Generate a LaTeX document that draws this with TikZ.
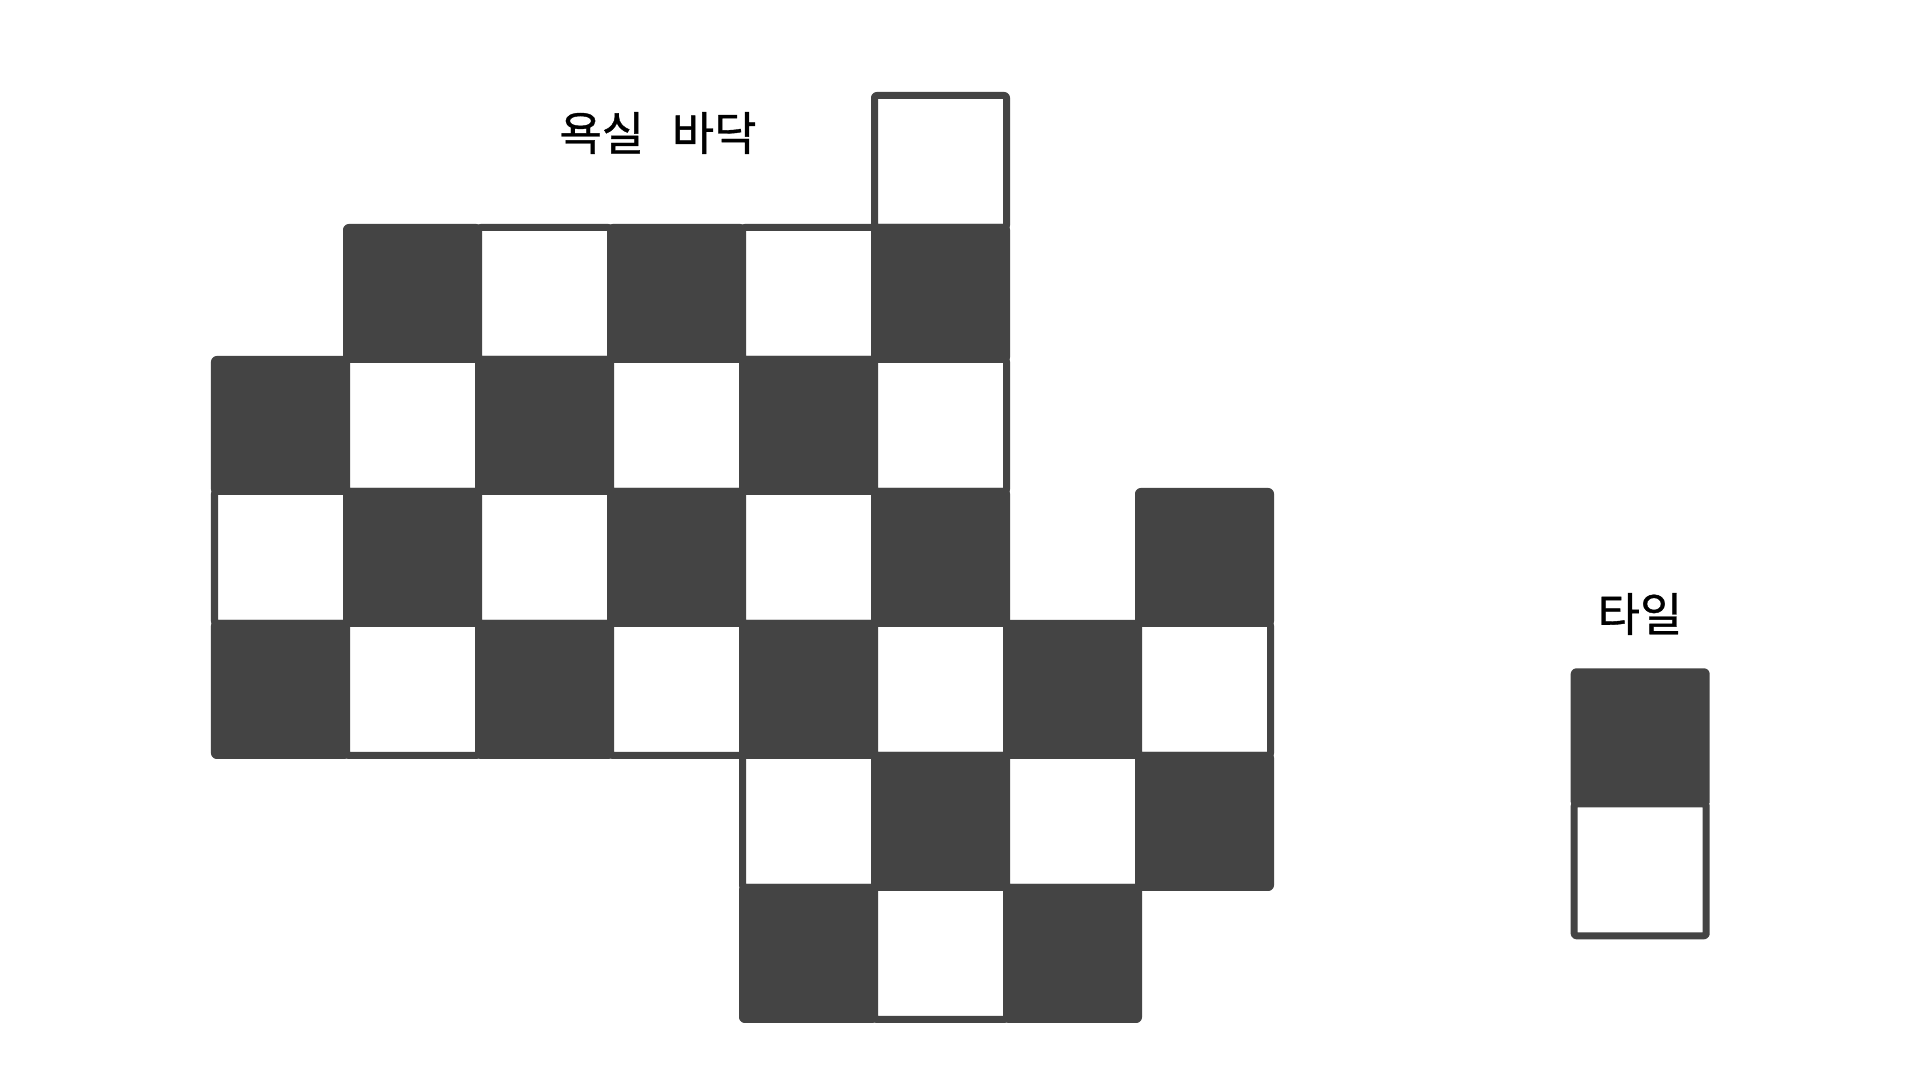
\documentclass[tikz,border=0pt]{standalone}
\usepackage{fontspec}
\newfontfamily\kr[FakeBold=0.8]{Noto Sans CJK KR}
\definecolor{tilegray}{HTML}{444444}
\begin{document}
\begin{tikzpicture}[x=0.01cm,y=-0.01cm,
  cell/.style={draw=tilegray,line width=0.07cm,line join=round,rounded corners=0.6pt},
  label/.style={font=\kr\fontsize{13.1pt}{15pt}\selectfont,inner sep=0pt,text=black}]
\useasboundingbox[fill=white] (0,0) rectangle (1920,1080);
% bathroom floor
\foreach \r/\c in {0/5,
  1/1,1/2,1/3,1/4,1/5,
  2/0,2/1,2/2,2/3,2/4,2/5,
  3/0,3/1,3/2,3/3,3/4,3/5,3/7,
  4/0,4/1,4/2,4/3,4/4,4/5,4/6,4/7,
  5/4,5/5,5/6,5/7,
  6/4,6/5,6/6} {
  \pgfmathtruncatemacro\p{mod(\r+\c,2)}
  \ifnum\p=0 \def\fc{tilegray}\else\def\fc{white}\fi
  \draw[cell,fill=\fc] (214.5+132*\c,95.5+132*\r) rectangle ++(132,132);
}
% single tile
\draw[cell,fill=tilegray] (1574.2,671.8) rectangle ++(132,132);
\draw[cell,fill=white] (1574.2,803.8) rectangle ++(132,132);
% labels
\node[label] (floor) at (658,133) {욕실\hspace{0.6em}바닥};
\node[label] (tile) at (1640,614) {타일};
\end{tikzpicture}
\end{document}
